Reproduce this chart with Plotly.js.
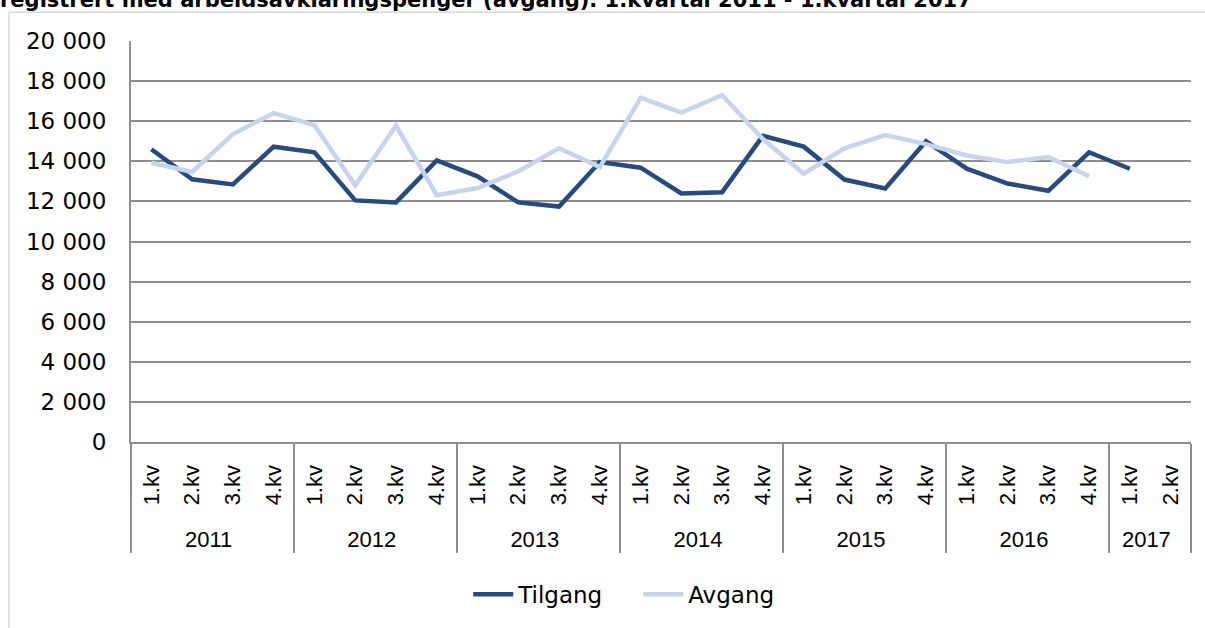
<!DOCTYPE html>
<html>
<head>
<meta charset="utf-8">
<script src="https://cdn.plot.ly/plotly-3.0.1.min.js"></script>
<style>html,body{margin:0;padding:0;background:#fff;}#chart{width:1205px;height:628px;}</style>
</head>
<body>
<div id="chart"></div>
<script>
const titleText = 'registrert med arbeidsavklaringspenger (avgang). 1.kvartal 2011 - 1.kvartal 2017';
const periodYear = ['2011','2011','2011','2011','2012','2012','2012','2012','2013','2013','2013','2013',
  '2014','2014','2014','2014','2015','2015','2015','2015','2016','2016','2016','2016','2017','2017'];
const periodQuarter = ['1.kv','2.kv','3.kv','4.kv','1.kv','2.kv','3.kv','4.kv','1.kv','2.kv','3.kv','4.kv',
  '1.kv','2.kv','3.kv','4.kv','1.kv','2.kv','3.kv','4.kv','1.kv','2.kv','3.kv','4.kv','1.kv','2.kv'];
const tilgang = [14600,13100,12850,14730,14450,12050,11950,14040,13250,11950,11740,13960,
  13680,12400,12460,15270,14730,13090,12640,15000,13630,12890,12530,14450,13630,null];
const avgang = [13930,13470,15360,16400,15800,12810,15770,12310,12670,13500,14650,13710,
  17170,16430,17300,15110,13380,14650,15310,14860,14290,13960,14210,13250,null,null];

// rotated quarter labels: trailing no-break spaces keep them clear of the axis line
const quarterShown = periodQuarter.map(q => q + '\u00a0\u00a0');
const F = 'DejaVu Sans, Liberation Sans, Arial, sans-serif';
const GRID = '#8f8f8f';
const traces = [
  {name:'Tilgang', type:'scatter', mode:'lines', x:[periodYear, quarterShown], y:tilgang,
   line:{color:'#284B7C', width:4.5}, connectgaps:false},
  {name:'Avgang', type:'scatter', mode:'lines', x:[periodYear, quarterShown], y:avgang,
   line:{color:'#C6D5EC', width:4.5}, connectgaps:false}
];
const layout = {
  width:1205, height:628,
  margin:{l:131, r:14, t:41, b:182},
  paper_bgcolor:'#fff', plot_bgcolor:'#fff',
  separators:', ',
  showlegend:true,
  legend:{orientation:'h', x:0.4785, xanchor:'center', y:-0.38, yanchor:'middle',
          font:{family:F, size:23, color:'#000'}, itemwidth:40,
          entrywidth:115, entrywidthmode:'pixels'},
  xaxis:{type:'multicategory', range:[-0.5,25.5], showgrid:false, showline:true,
         linecolor:GRID, linewidth:2, ticks:'', tickangle:-90,
         tickfont:{family:'Liberation Sans, Arial, sans-serif', size:22, color:'#000'},
         showdividers:true, dividercolor:GRID, dividerwidth:2, fixedrange:true},
  yaxis:{range:[0,20000], dtick:2000, tickformat:',d', showgrid:true, gridcolor:GRID,
         gridwidth:2, zeroline:false, showline:true, linecolor:GRID, linewidth:2,
         ticks:'', ticklabelstandoff:18,
         tickfont:{family:F, size:23, color:'#000'}, fixedrange:true},
  shapes:[{type:'rect', xref:'paper', yref:'paper', x0:-0.1151, x1:1.03, y0:1.0716, y1:-0.6,
           line:{color:'#d9d9d9', width:1.5}, fillcolor:'rgba(0,0,0,0)', layer:'below'}],
  annotations:[{text:'<b>'+titleText+'</b>', xref:'paper', yref:'paper', x:-0.1255, y:1.102,
               xanchor:'left', yanchor:'middle', showarrow:false,
               font:{family:'DejaVu Sans, sans-serif', size:21, color:'#000'}}]
};
Plotly.newPlot('chart', traces, layout, {displayModeBar:false, staticPlot:true});
</script>
</body>
</html>
